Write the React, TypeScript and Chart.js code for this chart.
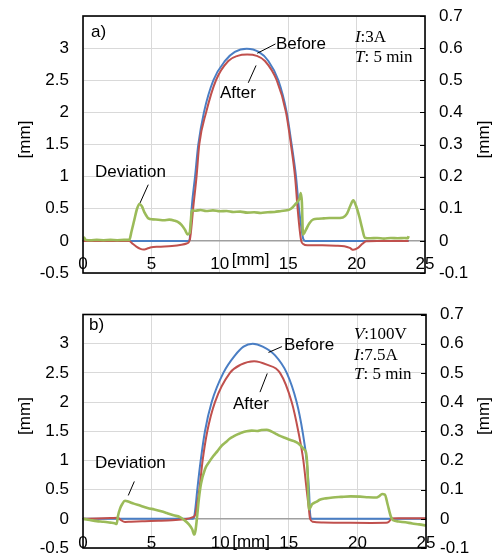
import React, { useEffect, useRef } from "react";
import { Chart, registerables } from "chart.js";

Chart.register(...registerables);

// ---------------- Panel a) ----------------
const beforeA_x = [0, 7.72, 7.8, 7.86, 7.94, 8.19, 8.43, 8.84, 9.53, 10.38, 11.1, 11.97, 12.85, 13.55, 14.28, 14.89, 15.25, 15.57, 15.79, 16.0, 16.1, 16.25, 23.8];
const beforeA_y = [0, 0, 0.03, 0.2, 0.5, 1, 1.5, 2, 2.5, 2.8, 2.94, 2.99, 2.94, 2.8, 2.5, 2, 1.5, 1, 0.5, 0.15, 0.03, 0, 0];

const afterA_x = [0, 3.38, 3.6, 3.9, 4.2, 4.41, 4.7, 5.0, 5.5, 6.5, 7.2, 7.58, 7.72, 7.82, 7.92, 8.05, 8.3, 8.5, 9.0, 9.72, 10.62, 11.3, 12.0, 12.7, 13.3, 14.16, 14.84, 15.2, 15.5, 15.69, 15.85, 15.95, 16.1, 16.4, 17.5, 18.5, 19.1, 19.5, 19.76, 20.1, 20.4, 20.7, 21.5, 23.8];
const afterA_y = [0, 0, -0.04, -0.09, -0.125, -0.135, -0.12, -0.1, -0.09, -0.08, -0.06, -0.04, -0.025, 0.03, 0.2, 0.5, 1, 1.5, 2, 2.5, 2.8, 2.88, 2.9, 2.88, 2.8, 2.5, 2, 1.5, 1, 0.5, 0.15, 0.0, -0.05, -0.07, -0.07, -0.075, -0.085, -0.11, -0.14, -0.11, -0.05, -0.005, 0, 0];

const devA_x = [0, 0.08, 0.2, 0.6, 1.0, 1.5, 2.0, 2.5, 3.0, 3.38, 3.55, 3.75, 3.95, 4.12, 4.3, 4.5, 4.78, 5.1, 5.5, 5.9, 6.3, 6.7, 6.9, 7.2, 7.45, 7.65, 7.8, 7.88, 7.95, 8.2, 8.6, 9.0, 9.5, 10.0, 10.5, 11.0, 11.5, 12.0, 12.5, 13.0, 13.5, 14.0, 14.5, 14.9, 15.2, 15.5, 15.75, 15.85, 15.92, 16.0, 16.08, 16.3, 16.55, 16.84, 17.2, 17.6, 18.0, 18.5, 19.0, 19.3, 19.55, 19.76, 19.95, 20.2, 20.4, 20.6, 21.0, 21.5, 22.0, 22.5, 23.0, 23.5, 23.75, 23.8];
const devA_y = [0.002, 0.01, 0.003, 0.002, 0.003, 0.002, 0.003, 0.002, 0.003, 0.003, 0.03, 0.065, 0.1, 0.115, 0.108, 0.088, 0.07, 0.067, 0.066, 0.064, 0.066, 0.063, 0.06, 0.05, 0.035, 0.02, 0.025, 0.06, 0.095, 0.094, 0.096, 0.093, 0.095, 0.092, 0.093, 0.09, 0.091, 0.088, 0.089, 0.087, 0.089, 0.09, 0.093, 0.095, 0.1, 0.113, 0.125, 0.135, 0.149, 0.12, 0.02, 0.035, 0.055, 0.067, 0.069, 0.07, 0.071, 0.071, 0.073, 0.085, 0.11, 0.126, 0.11, 0.075, 0.04, 0.01, 0.008, 0.009, 0.007, 0.009, 0.008, 0.009, 0.008, 0.015];

// ---------------- Panel b) ----------------
const beforeB_x = [0, 8.0, 8.1, 8.2, 8.33, 8.58, 8.89, 9.38, 10.23, 11.08, 11.7, 12.37, 13.1, 14.0, 14.85, 15.57, 16.0, 16.3, 16.47, 16.55, 16.65, 25];
const beforeB_y = [0, 0, 0.03, 0.2, 0.5, 1, 1.5, 2, 2.5, 2.8, 2.95, 3.0, 2.95, 2.8, 2.5, 2, 1.5, 1, 0.5, 0.1, 0, 0];

const afterB_x = [0, 1.0, 2.0, 2.55, 2.75, 3.06, 3.5, 4.5, 5.5, 6.5, 7.5, 8.0, 8.12, 8.22, 8.35, 8.48, 8.72, 9.06, 9.62, 10.71, 11.5, 12.47, 13.4, 14.36, 15.21, 15.69, 16.06, 16.3, 16.45, 16.55, 16.75, 17.5, 19.0, 21.0, 22.1, 22.3, 22.5, 23.0, 25];
const afterB_y = [0, 0.005, 0.012, 0.017, -0.02, -0.055, -0.05, -0.042, -0.035, -0.025, -0.005, 0.03, 0.045, 0.1, 0.3, 0.5, 1, 1.5, 2, 2.5, 2.64, 2.7, 2.64, 2.5, 2, 1.5, 1, 0.5, 0.2, 0, -0.05, -0.065, -0.068, -0.07, -0.068, -0.05, 0.005, 0.01, 0.01];

const devB_x = [0, 0.5, 1.0, 1.5, 2.0, 2.3, 2.45, 2.55, 2.7, 2.85, 3.06, 3.3, 3.7, 4.2, 4.7, 5.2, 5.7, 6.1, 6.6, 7.07, 7.4, 7.7, 7.95, 8.11, 8.2, 8.3, 8.45, 8.6, 8.89, 9.2, 9.5, 9.8, 10.1, 10.4, 10.71, 11.0, 11.3, 11.6, 11.93, 12.3, 12.7, 13.0, 13.39, 13.7, 14.0, 14.36, 14.7, 15.0, 15.38, 15.7, 15.94, 16.1, 16.25, 16.35, 16.47, 16.7, 17.0, 17.3, 17.7, 18.2, 18.8, 19.5, 20.2, 20.8, 21.4, 21.6, 21.8, 22.0, 22.2, 22.43, 22.6, 23.0, 23.5, 24.0, 24.5, 25];
const devB_y = [0, -0.004, -0.008, -0.01, -0.013, -0.015, -0.018, 0.01, 0.035, 0.05, 0.062, 0.059, 0.052, 0.045, 0.037, 0.032, 0.026, 0.02, 0.012, 0.006, -0.005, -0.018, -0.035, -0.054, -0.04, 0.0, 0.07, 0.12, 0.17, 0.195, 0.215, 0.232, 0.25, 0.262, 0.275, 0.283, 0.29, 0.296, 0.3, 0.302, 0.301, 0.304, 0.305, 0.3, 0.293, 0.284, 0.278, 0.272, 0.266, 0.258, 0.247, 0.238, 0.228, 0.18, 0.032, 0.05, 0.058, 0.066, 0.07, 0.073, 0.075, 0.077, 0.076, 0.074, 0.073, 0.078, 0.085, 0.083, 0.05, 0.009, -0.005, -0.009, -0.012, -0.016, -0.019, -0.023];

// ---------------- Axes ----------------
const xTicks = { min: 0, max: 25, step: 5 };
const leftTicks = { min: -0.5, max: 3.5, step: 0.5 };
const rightTicks = { min: -0.1, max: 0.7, step: 0.1 };

// ---------------- Annotations (data coordinates, left axis) ----------------
type Note = { text: string; x: number; y: number; italic?: string; serif?: boolean };
type Leader = [number, number, number, number];

const notesA: Note[] = [
  { text: "a)", x: 0.58, y: 3.24 },
  { text: "Before", x: 14.1, y: 3.065 },
  { text: "After", x: 10.01, y: 2.29 },
  { text: "Deviation", x: 0.88, y: 1.07 },
  { italic: "I", text: ":3A", x: 19.88, y: 3.16, serif: true },
  { italic: "T", text: ": 5 min", x: 19.88, y: 2.86, serif: true },
];
const leadersA: Leader[] = [
  [12.74, 2.92, 14.07, 3.065],
  [12.08, 2.46, 12.65, 2.73],
  [4.17, 0.59, 4.77, 0.875],
];

const notesB: Note[] = [
  { text: "b)", x: 0.44, y: 3.31 },
  { text: "Before", x: 14.65, y: 2.97 },
  { text: "After", x: 10.93, y: 1.97 },
  { text: "Deviation", x: 0.87, y: 0.95 },
  { italic: "V", text: ":100V", x: 19.75, y: 3.16, serif: true },
  { italic: "I", text: ":7.5A", x: 19.75, y: 2.8, serif: true },
  { italic: "T", text: ": 5 min", x: 19.75, y: 2.48, serif: true },
];
const leadersB: Leader[] = [
  [13.52, 2.85, 14.5, 2.95],
  [12.9, 2.17, 13.43, 2.49],
  [3.3, 0.4, 3.74, 0.64],
];

const SANS = '"Liberation Sans", Arial, Helvetica, sans-serif';
const SERIF = '"Liberation Serif", "Times New Roman", serif';
const BLUE = "#4a7ec4";
const RED = "#c0504d";
const GREEN = "#9bbb59";

const pts = (xs: number[], ys: number[]) => xs.map((x, i) => ({ x, y: ys[i] }));
const fmt = (v: number) => {
  const r = Math.round(v * 10) / 10;
  return r === 0 ? "0" : String(r);
};

type PanelCfg = {
  before: { x: number; y: number }[];
  after: { x: number; y: number }[];
  dev: { x: number; y: number }[];
  notes: Note[];
  leaders: Leader[];
  padTop: number;
  padBottom: number;
  rightWidth: number;
  xPad: number;
  yTitleY: number;
  xTitleOffset: number;
};

function makeDecor(p: PanelCfg) {
  return {
    id: "decor",
    afterDatasetsDraw(chart: any) {
      const { ctx, chartArea: a, scales } = chart;
      ctx.save();
      ctx.strokeStyle = "#000";
      ctx.lineWidth = 1;
      scales.y2.ticks.forEach((t: any) => {
        const y = Math.round(scales.y2.getPixelForValue(t.value)) + 0.5;
        ctx.beginPath();
        ctx.moveTo(a.right - 5, y);
        ctx.lineTo(a.right, y);
        ctx.stroke();
      });
      ctx.lineWidth = 1.6;
      ctx.strokeRect(a.left, a.top, a.right - a.left, a.bottom - a.top);
      ctx.restore();
    },
    afterDraw(chart: any) {
      const { ctx, scales, width } = chart;
      const sx = scales.x, sy = scales.y;
      ctx.save();
      ctx.fillStyle = "#000";
      ctx.strokeStyle = "#000";
      ctx.lineWidth = 1;
      p.leaders.forEach(([x1, y1, x2, y2]) => {
        ctx.beginPath();
        ctx.moveTo(sx.getPixelForValue(x1), sy.getPixelForValue(y1));
        ctx.lineTo(sx.getPixelForValue(x2), sy.getPixelForValue(y2));
        ctx.stroke();
      });
      ctx.textBaseline = "middle";
      ctx.textAlign = "left";
      p.notes.forEach((n) => {
        const px = sx.getPixelForValue(n.x);
        const py = sy.getPixelForValue(n.y);
        if (n.serif) {
          let off = 0;
          if (n.italic) {
            ctx.font = `italic 17px ${SERIF}`;
            ctx.fillText(n.italic, px, py);
            off = ctx.measureText(n.italic).width;
          }
          ctx.font = `17px ${SERIF}`;
          ctx.fillText(n.text, px + off, py);
        } else {
          ctx.font = `17px ${SANS}`;
          ctx.fillText(n.text, px, py);
        }
      });
      // axis titles
      ctx.font = `17px ${SANS}`;
      ctx.textAlign = "center";
      ctx.fillText("[mm]", sx.getPixelForValue(12.25), sy.getPixelForValue(0) + p.xTitleOffset);
      [25, width - 10].forEach((cx) => {
        ctx.save();
        ctx.translate(cx, p.yTitleY);
        ctx.rotate(-Math.PI / 2);
        ctx.fillText("[mm]", 0, 0);
        ctx.restore();
      });
      ctx.restore();
    },
  };
}

function buildChart(canvas: HTMLCanvasElement, p: PanelCfg) {
  const tickFont = { family: SANS, size: 17 };
  const line = (data: any, color: string, w: number, axis: string) => ({
    data,
    borderColor: color,
    backgroundColor: color,
    borderWidth: w,
    pointRadius: 0,
    fill: false,
    cubicInterpolationMode: "monotone",
    yAxisID: axis,
  });
  return new Chart(canvas, {
    type: "line",
    data: {
      datasets: [
        line(p.dev, GREEN, 2.6, "y2"),
        line(p.after, RED, 2, "y"),
        line(p.before, BLUE, 2, "y"),
      ] as any,
    },
    options: {
      animation: false,
      responsive: false,
      events: [],
      layout: { padding: { top: p.padTop, bottom: p.padBottom, left: 0, right: 0 } },
      plugins: { legend: { display: false }, tooltip: { enabled: false }, title: { display: false } },
      scales: {
        x: {
          type: "linear",
          min: xTicks.min,
          max: xTicks.max,
          position: { y: 0 } as any,
          ticks: { stepSize: xTicks.step, padding: p.xPad, font: tickFont, color: "#000", maxRotation: 0, autoSkip: false },
          grid: { color: "#d9d9d9", lineWidth: 1, drawTicks: false },
          border: { color: "#a0a0a0", width: 1.5 },
          afterFit: (s: any) => { s.height = 0; },
        },
        y: {
          position: "left",
          min: leftTicks.min,
          max: leftTicks.max,
          ticks: {
            stepSize: leftTicks.step,
            padding: 0,
            font: tickFont,
            color: "#000",
            callback: (v: any) => (Math.abs(v - leftTicks.max) < 1e-9 ? "" : fmt(v)),
          },
          grid: { color: "#d9d9d9", lineWidth: 1, drawTicks: true, tickLength: 14, tickColor: "rgba(0,0,0,0)" },
          border: { display: false },
          afterFit: (s: any) => { s.width = 83; },
        },
        y2: {
          position: "right",
          min: rightTicks.min,
          max: rightTicks.max,
          ticks: { stepSize: rightTicks.step, padding: 0, font: tickFont, color: "#000", callback: (v: any) => fmt(v) },
          grid: { drawOnChartArea: false, drawTicks: true, tickLength: 14, tickColor: "rgba(0,0,0,0)" },
          border: { display: false },
          afterFit: (s: any) => { s.width = p.rightWidth; },
        },
      },
    } as any,
    plugins: [makeDecor(p)],
  });
}

const panelA: PanelCfg = {
  before: pts(beforeA_x, beforeA_y),
  after: pts(afterA_x, afterA_y),
  dev: pts(devA_x, devA_y),
  notes: notesA,
  leaders: leadersA,
  padTop: 16,
  padBottom: 22,
  rightWidth: 69,
  xPad: 13,
  yTitleY: 139.5,
  xTitleOffset: 19,
};

const panelB: PanelCfg = {
  before: pts(beforeB_x, beforeB_y),
  after: pts(afterB_x, afterB_y),
  dev: pts(devB_x, devB_y),
  notes: notesB,
  leaders: leadersB,
  padTop: 34.5,
  padBottom: 11,
  rightWidth: 68,
  xPad: 14,
  yTitleY: 136,
  xTitleOffset: 23,
};

export default function App() {
  const refA = useRef<HTMLCanvasElement | null>(null);
  const refB = useRef<HTMLCanvasElement | null>(null);
  useEffect(() => {
    const ca = buildChart(refA.current!, panelA);
    const cb = buildChart(refB.current!, panelB);
    return () => {
      ca.destroy();
      cb.destroy();
    };
  }, []);
  return (
    <div style={{ position: "absolute", left: 0, top: 0, width: 494, height: 559, background: "#fff", overflow: "hidden" }}>
      <canvas ref={refA} width={494} height={295} style={{ position: "absolute", left: 0, top: 0, width: 494, height: 295 }} />
      <canvas ref={refB} width={494} height={279} style={{ position: "absolute", left: 0, top: 280, width: 494, height: 279 }} />
    </div>
  );
}
